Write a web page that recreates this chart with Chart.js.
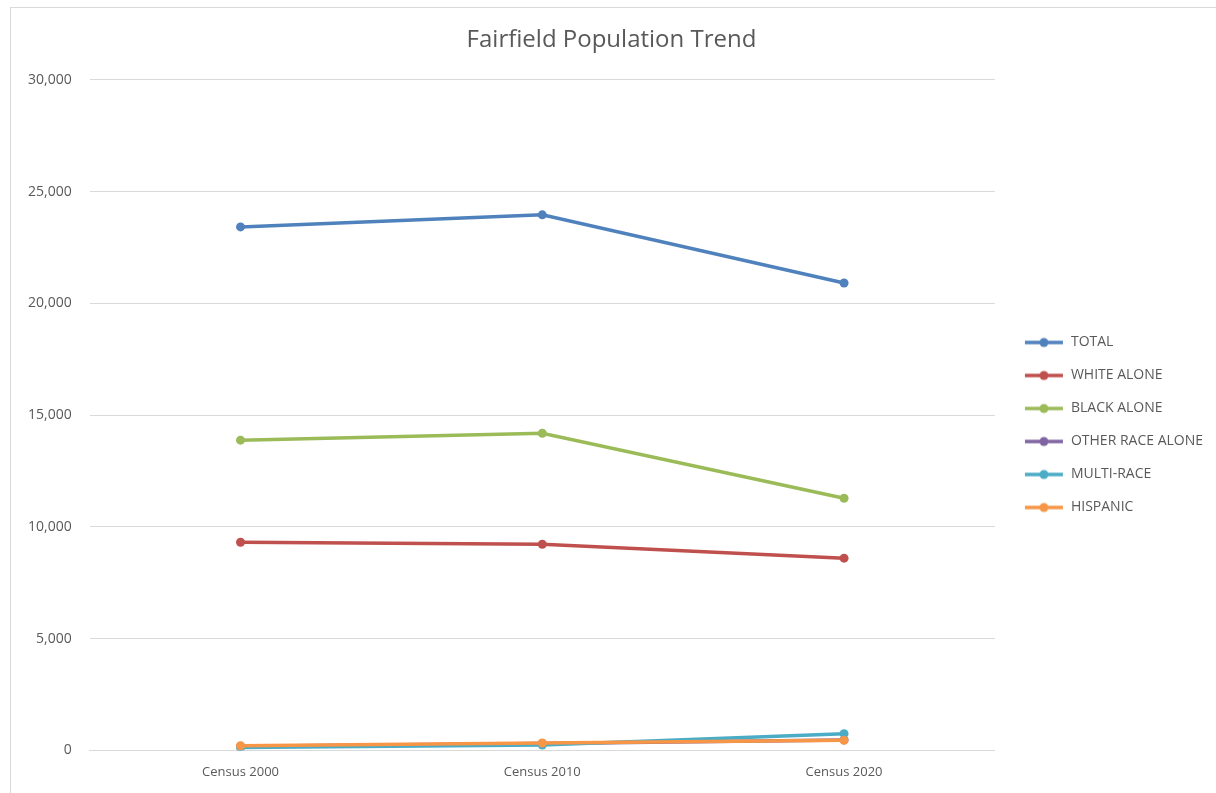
<!DOCTYPE html>
<html>
<head>
<meta charset="utf-8">
<script src="https://cdn.jsdelivr.net/npm/chart.js"></script>
<style>
  html, body { margin: 0; padding: 0; background: #fff; }
  #wrap { position: relative; width: 1216px; height: 793px; overflow: hidden; }
  #frame { position: absolute; left: 10px; top: 7px; width: 1240px; height: 820px; border: 1px solid #d9d9d9; }
  canvas { position: absolute; left: 0; top: 0; }
</style>
</head>
<body>
<div id="wrap">
  <div id="frame"></div>
  <canvas id="grafico" width="1217" height="800"></canvas>
</div>
<script>
// datos
const categorias = ["Census 2000", "Census 2010", "Census 2020"];
const total = [23420, 23960, 20910];
const blancos = [9310, 9220, 8600];
const negros = [13880, 14190, 11280];
const otraRaza = [190, 310, 470];
const multiRaza = [130, 240, 750];
const hispanos = [210, 330, 450];
const series = ["TOTAL", "WHITE ALONE", "BLACK ALONE", "OTHER RACE ALONE", "MULTI-RACE", "HISPANIC"];
const colores = ["#4F81BD", "#C0504D", "#9BBB59", "#8064A2", "#4BACC6", "#F79646"];
const valores = [total, blancos, negros, otraRaza, multiRaza, hispanos];

// icono de leyenda: linea con punto, como en Excel
function iconoLeyenda(color) {
  const c = document.createElement("canvas");
  c.width = 50; c.height = 12;
  const g = c.getContext("2d");
  g.strokeStyle = color; g.lineWidth = 3.5;
  g.beginPath(); g.moveTo(11, 6); g.lineTo(49, 6); g.stroke();
  g.fillStyle = color;
  g.beginPath(); g.arc(30, 6, 4.5, 0, Math.PI * 2); g.fill();
  return c;
}

window.addEventListener("load", () => {
  const ctx = document.getElementById("grafico").getContext("2d");
  const datasets = series.map((nombre, i) => ({
    label: nombre,
    data: valores[i],
    borderColor: colores[i],
    backgroundColor: colores[i],
    borderWidth: 3.5,
    pointRadius: 4.5,
    pointHoverRadius: 5,
    pointBorderWidth: 0,
    tension: 0,
    order: series.length - i
  }));

  new Chart(ctx, {
    type: "line",
    data: { labels: categorias, datasets: datasets },
    options: {
      responsive: false,
      animation: false,
      layout: { padding: { left: 10, right: 4, top: 4, bottom: 6 } },
      plugins: {
        title: {
          display: true,
          text: "Fairfield Population Trend",
          color: "#595959",
          font: { family: "'Open Sans', sans-serif", size: 24, weight: "normal" },
          padding: { top: 22, bottom: 25 }
        },
        legend: {
          position: "right",
          align: "center",
          // titulo vacio solo para bajar la leyenda
          title: { display: true, text: "", font: { size: 10 }, padding: { top: 40, bottom: 0 } },
          labels: {
            color: "#595959",
            font: { family: "'Open Sans', sans-serif", size: 14 },
            usePointStyle: true,
            pointStyleWidth: 50,
            padding: 19,
            generateLabels: (chart) => chart.data.datasets.map((d, i) => ({
              text: d.label,
              fillStyle: d.borderColor,
              strokeStyle: d.borderColor,
              fontColor: "#595959",
              pointStyle: iconoLeyenda(d.borderColor),
              lineWidth: 0,
              hidden: !chart.isDatasetVisible(i),
              datasetIndex: i
            }))
          }
        },
        tooltip: { enabled: true }
      },
      scales: {
        x: {
          offset: true,
          grid: { display: false, drawTicks: false },
          border: { display: true, color: "#d9d9d9", width: 1 },
          ticks: { color: "#595959", font: { family: "'Open Sans', sans-serif", size: 13 }, padding: 14 }
        },
        y: {
          min: 0,
          max: 30000,
          ticks: {
            stepSize: 5000,
            color: "#595959",
            font: { family: "'Open Sans', sans-serif", size: 14 },
            padding: 18,
            callback: (v) => v.toLocaleString("en-US")
          },
          grid: { color: "#d9d9d9", drawTicks: false },
          border: { display: false }
        }
      }
    }
  });
});
</script>
</body>
</html>
